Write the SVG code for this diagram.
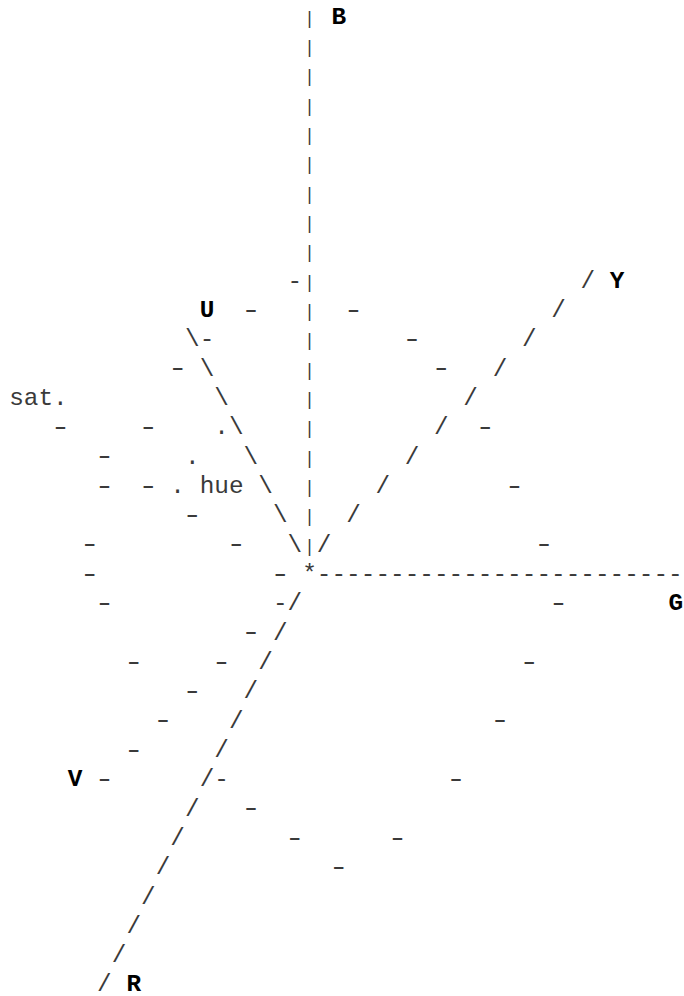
<svg xmlns="http://www.w3.org/2000/svg" width="684" height="996" viewBox="0 0 684 996">
<style>
  text { font-family: "Liberation Mono", "DejaVu Sans Mono", monospace; font-size: 24.4px; fill: #3a3a3a; text-anchor: middle; }
  .lbl { font-weight: bold; fill: #000; }
  .word { text-anchor: start; }
  .v { font-size: 17.5px; }
  .d { transform-box: fill-box; transform-origin: center; transform: scaleX(1.4); }
</style>
<rect width="684" height="996" fill="#fff"/>
<g id="connectors">
  <g id="axis-B">
    <text class="v" x="309.5" y="23.5">|</text>
    <text class="v" x="309.5" y="52.83">|</text>
    <text class="v" x="309.5" y="82.17">|</text>
    <text class="v" x="309.5" y="111.5">|</text>
    <text class="v" x="309.5" y="140.83">|</text>
    <text class="v" x="309.5" y="170.17">|</text>
    <text class="v" x="309.5" y="199.5">|</text>
    <text class="v" x="309.5" y="228.83">|</text>
    <text class="v" x="309.5" y="258.17">|</text>
    <text class="v" x="309.5" y="287.5">|</text>
    <text class="v" x="309.5" y="316.83">|</text>
    <text class="v" x="309.5" y="346.17">|</text>
    <text class="v" x="309.5" y="375.5">|</text>
    <text class="v" x="309.5" y="404.83">|</text>
    <text class="v" x="309.5" y="434.17">|</text>
    <text class="v" x="309.5" y="463.5">|</text>
    <text class="v" x="309.5" y="492.83">|</text>
    <text class="v" x="309.5" y="522.17">|</text>
    <text class="v" x="309.5" y="551.5">|</text>
  </g>
  <g id="axis-Y">
    <text x="324.15" y="551.5">/</text>
    <text x="353.45" y="522.17">/</text>
    <text x="382.75" y="492.83">/</text>
    <text x="412.05" y="463.5">/</text>
    <text x="441.35" y="434.17">/</text>
    <text x="470.65" y="404.83">/</text>
    <text x="499.95" y="375.5">/</text>
    <text x="529.25" y="346.17">/</text>
    <text x="558.55" y="316.83">/</text>
    <text x="587.85" y="287.5">/</text>
  </g>
  <g id="axis-U">
    <text x="294.85" y="551.5">\</text>
    <text x="280.2" y="522.17">\</text>
    <text x="265.55" y="492.83">\</text>
    <text x="250.9" y="463.5">\</text>
    <text x="236.25" y="434.17">\</text>
    <text x="221.6" y="404.83">\</text>
    <text x="206.95" y="375.5">\</text>
    <text x="192.3" y="346.17">\</text>
  </g>
  <g id="axis-G">
    <text class="word" x="316.83" y="580.83">-------------------------</text>
  </g>
  <g id="axis-R">
    <text x="294.85" y="610.17">/</text>
    <text x="280.2" y="639.5">/</text>
    <text x="265.55" y="668.83">/</text>
    <text x="250.9" y="698.17">/</text>
    <text x="236.25" y="727.5">/</text>
    <text x="221.6" y="756.83">/</text>
    <text x="206.95" y="786.17">/</text>
    <text x="192.3" y="815.5">/</text>
    <text x="177.65" y="844.83">/</text>
    <text x="163" y="874.17">/</text>
    <text x="148.35" y="903.5">/</text>
    <text x="133.7" y="932.83">/</text>
    <text x="119.05" y="962.17">/</text>
    <text x="104.4" y="990.5">/</text>
  </g>
  <g id="hue-circle">
    <text x="294.85" y="287.5">-</text>
    <text class="d" x="250.9" y="316.83">-</text>
    <text class="d" x="353.45" y="316.83">-</text>
    <text x="206.95" y="346.17">-</text>
    <text class="d" x="412.05" y="346.17">-</text>
    <text class="d" x="441.35" y="375.5">-</text>
    <text class="d" x="485.3" y="434.17">-</text>
    <text class="d" x="514.6" y="492.83">-</text>
    <text class="d" x="543.9" y="551.5">-</text>
    <text class="d" x="558.55" y="610.17">-</text>
    <text class="d" x="529.25" y="668.83">-</text>
    <text class="d" x="499.95" y="727.5">-</text>
    <text class="d" x="456" y="786.17">-</text>
    <text class="d" x="397.4" y="844.83">-</text>
    <text class="d" x="338.8" y="874.17">-</text>
    <text class="d" x="294.85" y="844.83">-</text>
    <text class="d" x="250.9" y="815.5">-</text>
    <text x="221.6" y="786.17">-</text>
    <text class="d" x="280.2" y="580.83">-</text>
    <text x="280.2" y="610.17">-</text>
    <text class="d" x="250.9" y="639.5">-</text>
    <text class="d" x="221.6" y="668.83">-</text>
    <text class="d" x="192.3" y="698.17">-</text>
    <text class="d" x="163" y="727.5">-</text>
    <text class="d" x="133.7" y="756.83">-</text>
    <text class="d" x="104.4" y="786.17">-</text>
  </g>
  <g id="sat-ellipse">
    <text class="d" x="177.65" y="375.5">-</text>
    <text class="d" x="60.45" y="434.17">-</text>
    <text class="d" x="148.35" y="434.17">-</text>
    <text class="d" x="104.4" y="463.5">-</text>
    <text class="d" x="104.4" y="492.83">-</text>
    <text class="d" x="148.35" y="492.83">-</text>
    <text class="d" x="192.3" y="522.17">-</text>
    <text class="d" x="89.75" y="551.5">-</text>
    <text class="d" x="236.25" y="551.5">-</text>
    <text class="d" x="89.75" y="580.83">-</text>
    <text class="d" x="104.4" y="610.17">-</text>
    <text class="d" x="133.7" y="668.83">-</text>
  </g>
  <g id="hue-arc">
    <text x="221.6" y="434.17">.</text>
    <text x="192.3" y="463.5">.</text>
    <text x="177.65" y="492.83">.</text>
  </g>
</g>
<g id="node-origin"><text x="309.5" y="580.83">*</text></g>
<g id="node-B"><text class="lbl" x="338.8" y="23.5">B</text></g>
<g id="node-Y"><text class="lbl" x="617.15" y="287.5">Y</text></g>
<g id="node-U"><text class="lbl" x="206.95" y="316.83">U</text></g>
<g id="node-G"><text class="lbl" x="675.75" y="610.17">G</text></g>
<g id="node-V"><text class="lbl" x="75.1" y="786.17">V</text></g>
<g id="node-R"><text class="lbl" x="133.7" y="990.5">R</text></g>
<g id="node-sat"><text class="word" x="9.18" y="404.83">sat.</text></g>
<g id="node-hue"><text class="word" x="199.63" y="492.83">hue</text></g>
</svg>
